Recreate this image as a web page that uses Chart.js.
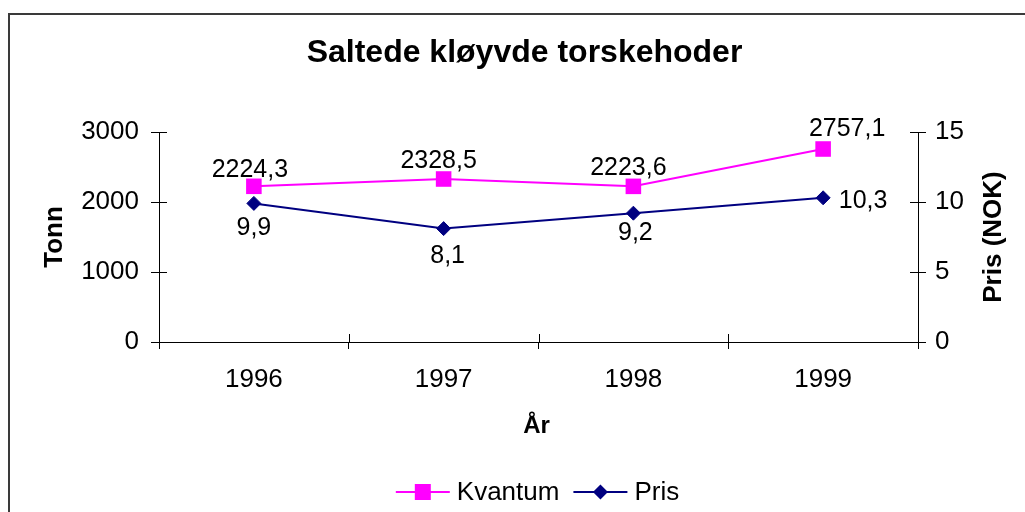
<!DOCTYPE html>
<html><head><meta charset="utf-8">
<script src="https://cdn.jsdelivr.net/npm/chart.js@4.4.1/dist/chart.umd.min.js"></script>
<style>
html,body{margin:0;padding:0;background:#fff;overflow:hidden}
#wrap{position:relative;width:1025px;height:512px;overflow:hidden}
#frame{position:absolute;left:8px;top:13px;width:1100px;height:600px;border:2px solid #3a3a3a;box-sizing:border-box;pointer-events:none}
canvas{position:absolute;left:0;top:0}
</style></head><body>
<div id="wrap"><div id="frame"></div><canvas id="c" width="1025" height="512"></canvas></div>
<script>
const chartTitle = 'Saltede kløyvde torskehoder';
const xTitle = 'År';
const yTitle = 'Tonn';
const y2Title = 'Pris (NOK)';
const years = ['1996', '1997', '1998', '1999'];
const kvantum = [2224.3, 2328.5, 2223.6, 2757.1];
const pris = [9.9, 8.1, 9.2, 10.3];
const tonnRange = [0, 3000, 1000];
const prisRange = [0, 15, 5];

const FONT = 'Liberation Sans, Arial, sans-serif';
// label offsets (text centre relative to point) — styling only
const labelOffsets = [
  [[-4, -18], [-5, -20], [-5, -20], [24, -22]],
  [[0, 23], [4, 25], [2, 17.5], [40, 1.5]]
];

function fmt(v) { return String(v).replace('.', ','); }

const extras = {
  id: 'extras',
  afterDraw(chart) {
    const ctx = chart.ctx;
    const ca = chart.chartArea;
    ctx.save();
    // inward halves of tick marks (cross ticks)
    ctx.strokeStyle = '#000';
    ctx.lineWidth = 1;
    const y = chart.scales.y, y2 = chart.scales.y2;
    ctx.beginPath();
    const n = years.length;
    for (let i = 0; i <= n; i++) {
      const px = Math.round(ca.left + i * (ca.right - ca.left) / n) + 0.5;
      ctx.moveTo(px, ca.bottom); ctx.lineTo(px, ca.bottom - 8);
    }
    y.ticks.forEach(t => { const py = Math.round(y.getPixelForValue(t.value)) + 0.5; ctx.moveTo(ca.left, py); ctx.lineTo(ca.left + 8, py); });
    y2.ticks.forEach(t => { const py = Math.round(y2.getPixelForValue(t.value)) + 0.5; ctx.moveTo(ca.right, py); ctx.lineTo(ca.right - 8, py); });
    ctx.stroke();

    ctx.fillStyle = '#000';
    // title
    ctx.font = 'bold 32px ' + FONT;
    ctx.textAlign = 'center'; ctx.textBaseline = 'alphabetic';
    ctx.fillText(chartTitle, 524.5, 62);
    // x title
    ctx.font = 'bold 24px ' + FONT;
    ctx.fillText(xTitle, 536.5, 433);
    // y titles
    ctx.font = 'bold 26px ' + FONT;
    ctx.save(); ctx.translate(62, 237); ctx.rotate(-Math.PI / 2); ctx.fillText(yTitle, 0, 0); ctx.restore();
    ctx.save(); ctx.translate(1001, 237); ctx.rotate(-Math.PI / 2); ctx.fillText(y2Title, 0, 0); ctx.restore();

    // data labels
    ctx.font = '25px ' + FONT;
    chart.data.datasets.forEach((ds, di) => {
      const meta = chart.getDatasetMeta(di);
      meta.data.forEach((pt, i) => {
        const off = labelOffsets[di][i];
        ctx.fillText(fmt(ds.data[i]), pt.x + off[0], pt.y + off[1] + 0.358 * 25);
      });
    });

    // legend
    ctx.font = '26px ' + FONT;
    ctx.textAlign = 'left';
    const lineLen = 54, gapText = 7, gapItem = 14;
    const items = chart.data.datasets.map(ds => ({ ds, w: ctx.measureText(ds.label).width }));
    let total = 0;
    items.forEach((it, i) => { total += lineLen + gapText + it.w + (i ? gapItem : 0); });
    let lx = 537.5 - total / 2;
    const ly = 492;
    items.forEach(it => {
      const ds = it.ds;
      ctx.strokeStyle = ds.borderColor; ctx.lineWidth = 2;
      ctx.beginPath(); ctx.moveTo(lx, ly); ctx.lineTo(lx + lineLen, ly); ctx.stroke();
      const cx = lx + lineLen / 2;
      ctx.fillStyle = ds.pointBackgroundColor;
      ctx.beginPath();
      if (ds.pointStyle === 'rect') {
        ctx.rect(cx - 8, ly - 8, 16, 16);
      } else {
        ctx.moveTo(cx - 7.5, ly); ctx.lineTo(cx, ly - 7.5); ctx.lineTo(cx + 7.5, ly); ctx.lineTo(cx, ly + 7.5); ctx.closePath();
      }
      ctx.fill();
      ctx.fillStyle = '#000';
      ctx.fillText(ds.label, lx + lineLen + gapText, ly + 8);
      lx += lineLen + gapText + it.w + gapItem;
    });
    ctx.restore();
  }
};

const tickFont = { family: FONT, size: 26 };

new Chart(document.getElementById('c'), {
  type: 'line',
  data: {
    labels: years,
    datasets: [
      { label: 'Kvantum', data: kvantum, yAxisID: 'y', borderColor: '#FF00FF', backgroundColor: '#FF00FF',
        pointBackgroundColor: '#FF00FF', pointBorderColor: '#FF00FF', pointStyle: 'rect', pointRadius: 11,
        pointBorderWidth: 0, borderWidth: 2, tension: 0 },
      { label: 'Pris', data: pris, yAxisID: 'y2', borderColor: '#000080', backgroundColor: '#000080',
        pointBackgroundColor: '#000080', pointBorderColor: '#000080', pointStyle: 'rectRot', pointRadius: 7,
        pointBorderWidth: 1, borderWidth: 2, tension: 0 }
    ]
  },
  options: {
    responsive: false, animation: false, devicePixelRatio: 1,
    layout: { padding: { top: 132, left: 0, right: 0, bottom: 0 } },
    plugins: { legend: { display: false }, title: { display: false }, tooltip: { enabled: false } },
    scales: {
      x: {
        type: 'category', offset: true,
        grid: { offset: true, drawOnChartArea: false, tickLength: 7, color: '#000', tickColor: '#000' },
        border: { color: '#000', width: 1 },
        ticks: { font: tickFont, color: '#000', padding: 15, maxRotation: 0 },
        afterFit: s => { s.height = 170; }
      },
      y: {
        position: 'left', min: tonnRange[0], max: tonnRange[1],
        grid: { drawOnChartArea: false, tickLength: 8, color: '#000', tickColor: '#000' },
        border: { color: '#000', width: 1 },
        ticks: { stepSize: tonnRange[2], font: tickFont, color: '#000', padding: 12, callback: v => String(v) },
        afterFit: s => { s.width = 159; }
      },
      y2: {
        position: 'right', min: prisRange[0], max: prisRange[1],
        grid: { drawOnChartArea: false, tickLength: 8, color: '#000', tickColor: '#000' },
        border: { color: '#000', width: 1 },
        ticks: { stepSize: prisRange[2], font: tickFont, color: '#000', padding: 9, callback: v => String(v) },
        afterFit: s => { s.width = 107; }
      }
    }
  },
  plugins: [extras]
});
</script>
</body></html>
